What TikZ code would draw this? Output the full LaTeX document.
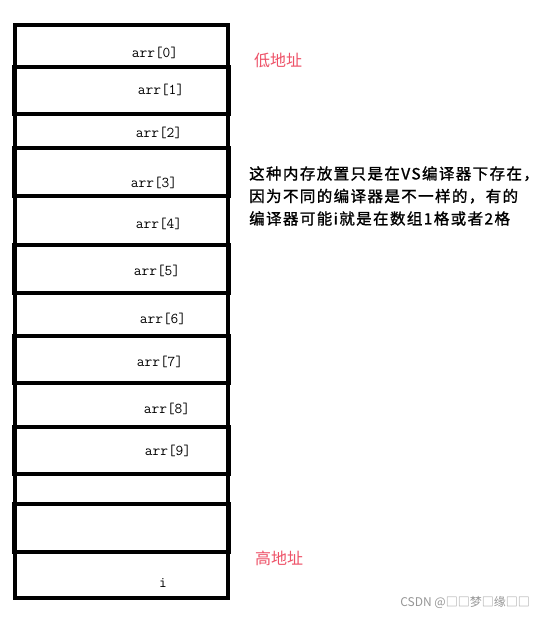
\documentclass[tikz,border=0pt]{standalone}
\usepackage{fontspec}
\newfontfamily\cjk{Noto Sans CJK SC}
\newfontfamily\cjknote[LetterSpace=9,FakeBold=1.2]{Noto Sans CJK SC}
\definecolor{addrred}{RGB}{238,82,104}
\definecolor{markgray}{RGB}{150,150,150}
\begin{document}
\begin{tikzpicture}[x=1pt,y=-1pt,
		frame/.style={line width=3.5pt},
		cell/.style={line width=4pt},
		lab/.style={font=\ttfamily\fontsize{15}{15}\selectfont},
		addr/.style={font=\cjk\fontsize{16}{16}\selectfont,text=addrred}]
	\useasboundingbox[fill=white] (0,0) rectangle (542,619);
	\draw[frame] (15,25) rectangle (228,598);
	\foreach \ya/\yb in {67/114,148/196,245/293,336/383,427/474,504/552}
		\draw[cell] (14,\ya) rectangle (228.5,\yb);
	\foreach \n/\x/\y in {0/155/53,1/161/90,2/159/133,3/154/183,4/159/224,5/157/271,6/163/319,7/160/362,8/167/409,9/168/451}
		\node[lab](a\n) at (\x,\y){arr[\n]};
	\node[lab](ii) at (163,583){i};
	\node[addr](low) at (278,60){低地址};
	\node[addr](high) at (279,558){高地址};
	\node[anchor=west,align=left,inner sep=0pt,font=\cjknote\fontsize{15.5}{22.5}\selectfont](note) at (249,196){这种内存放置只是在VS编译器下存在，\\因为不同的编译器是不一样的，有的\\编译器可能i就是在数组1格或者2格};
	\node[anchor=east,inner sep=0pt,text=markgray,font=\cjk\fontsize{12}{12}\selectfont](mark) at (530,602){CSDN @□□梦□缘□□};
\end{tikzpicture}
\end{document}
